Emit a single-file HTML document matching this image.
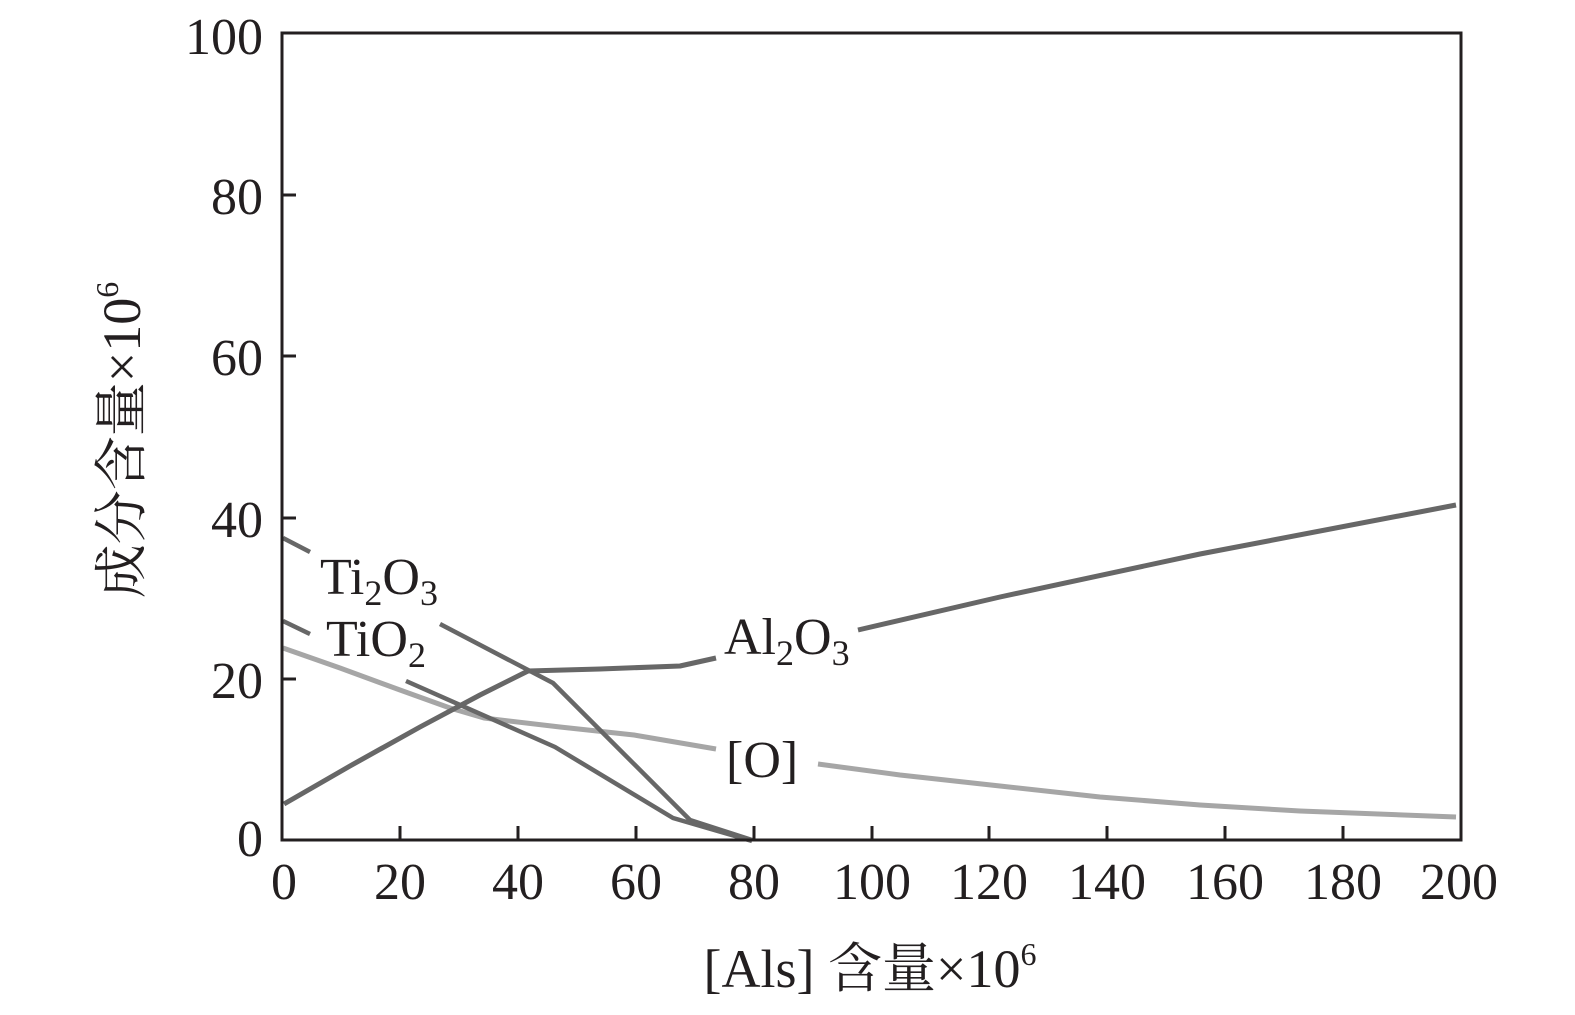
<!DOCTYPE html>
<html><head><meta charset="utf-8"><style>
html,body{margin:0;padding:0;background:#fff;}
svg text{font-family:"Liberation Serif","Noto Serif CJK SC",serif;fill:#231f20;}
</style></head><body>
<svg width="1575" height="1010" viewBox="0 0 1575 1010" xmlns="http://www.w3.org/2000/svg">
<g fill="none" stroke-linejoin="round" stroke-linecap="butt">
<polyline stroke="#a6a6a6" stroke-width="5" points="283,648 340,668 400,690 450,708 484,718 560,727 634,735 716,749"/>
<polyline stroke="#a6a6a6" stroke-width="5" points="818,764 900,775 1000,786 1100,797 1200,805 1300,811 1456,817"/>
<polyline stroke="#676767" stroke-width="5" points="284,804 350,766 420,727 480,695 528,671 600,669 680,666 716,658"/>
<polyline stroke="#676767" stroke-width="5" points="858,630 1000,597 1200,554 1456,505"/>
<polyline stroke="#676767" stroke-width="4.5" points="283,538 310,552"/>
<polyline stroke="#676767" stroke-width="4.5" points="440,624 553,683 690,820 752,840"/>
<polyline stroke="#676767" stroke-width="4.5" points="283,621 310,634"/>
<polyline stroke="#676767" stroke-width="4.5" points="406,681 555,747 673,818 752,841"/>
</g>
<rect x="282" y="33" width="1179" height="807" fill="none" stroke="#231f20" stroke-width="3"/>
<g stroke="#231f20" stroke-width="3">
<line x1="282" y1="195" x2="296" y2="195"/><line x1="282" y1="356" x2="296" y2="356"/>
<line x1="282" y1="518" x2="296" y2="518"/><line x1="282" y1="679" x2="296" y2="679"/>
<line x1="400" y1="840" x2="400" y2="826"/><line x1="518" y1="840" x2="518" y2="826"/>
<line x1="636" y1="840" x2="636" y2="826"/><line x1="754" y1="840" x2="754" y2="826"/>
<line x1="872" y1="840" x2="872" y2="826"/><line x1="989" y1="840" x2="989" y2="826"/>
<line x1="1107" y1="840" x2="1107" y2="826"/><line x1="1225" y1="840" x2="1225" y2="826"/>
<line x1="1343" y1="840" x2="1343" y2="826"/>
</g>
<g font-size="52" text-anchor="end">
<text x="263" y="54">100</text><text x="263" y="214">80</text><text x="263" y="375">60</text>
<text x="263" y="537">40</text><text x="263" y="698">20</text><text x="263" y="856">0</text>
</g>
<g font-size="52" text-anchor="middle">
<text x="284" y="899">0</text><text x="400" y="899">20</text><text x="518" y="899">40</text>
<text x="636" y="899">60</text><text x="754" y="899">80</text><text x="872" y="899">100</text>
<text x="989" y="899">120</text><text x="1107" y="899">140</text><text x="1225" y="899">160</text>
<text x="1343" y="899">180</text><text x="1459" y="899">200</text>
</g>
<text x="870" y="987" font-size="54" text-anchor="middle">[Als] 含量×10<tspan font-size="32" dy="-22">6</tspan></text>
<text transform="translate(140,440) rotate(-90)" font-size="54" text-anchor="middle">成分含量×10<tspan font-size="32" dy="-22">6</tspan></text>
<g font-size="52">
<text x="320" y="594">Ti<tspan font-size="36" dy="11">2</tspan><tspan dy="-11">O</tspan><tspan font-size="36" dy="11">3</tspan></text>
<text x="326" y="656">TiO<tspan font-size="36" dy="11">2</tspan></text>
<text x="724" y="654">Al<tspan font-size="36" dy="11">2</tspan><tspan dy="-11">O</tspan><tspan font-size="36" dy="11">3</tspan></text>
<text x="726" y="777">[O]</text>
</g>
</svg>
</body></html>
